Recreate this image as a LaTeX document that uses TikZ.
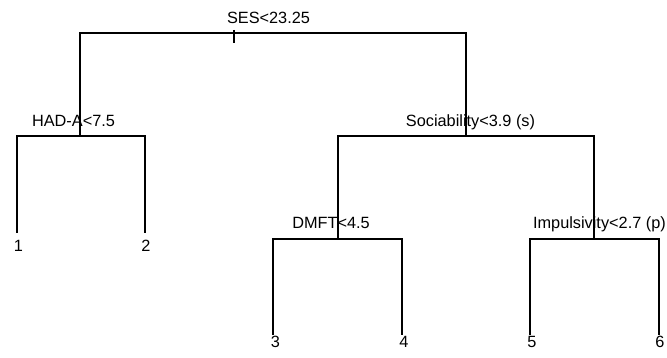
\documentclass[tikz,border=0pt]{standalone}
\usepackage{fontspec}
\setmainfont{Liberation Sans}
\begin{document}
\begin{tikzpicture}[x=1pt,y=-1pt,
  branch/.style={draw=black,line width=1.2pt},
  lab/.style={anchor=base,inner sep=0pt,font=\fontsize{16.3}{18}\selectfont},
  leaflab/.style={anchor=base,inner sep=0pt,font=\fontsize{16.3}{18}\selectfont}]
\useasboundingbox (0,0) rectangle (667,358);
% coordinates of tree nodes
\coordinate (rt) at (234,30);
\coordinate (rb) at (234,43);
\coordinate (r) at (234,33);
\coordinate (n2) at (80,136);
\coordinate (n3) at (466,136);
\coordinate (n6) at (338,239);
\coordinate (n7) at (594,239);
\coordinate (l1) at (17,233);
\coordinate (l2) at (145,233);
\coordinate (l3) at (273,335);
\coordinate (l4) at (402,335);
\coordinate (l5) at (530,335);
\coordinate (l6) at (659,335);
% labels
\node[lab] (t0) at (268.5,24) {SES<23.25};
\node[lab] (t2) at (73.5,127) {HAD-A<7.5};
\node[lab] (t3) at (470.5,127) {Sociability<3.9 (s)};
\node[lab] (t6) at (331,229) {DMFT<4.5};
\node[lab,anchor=base east] (t7) at (666,229) {Impulsivity<2.7 (p)};
\node[leaflab] (e1) at (18.5,252) {1};
\node[leaflab] (e2) at (146,252) {2};
\node[leaflab] (e3) at (275.5,347) {3};
\node[leaflab] (e4) at (404,347) {4};
\node[leaflab] (e5) at (532,347) {5};
\node[leaflab] (e6) at (660,347) {6};
% branches
\draw[branch] (rt) -- (rb);
\draw[branch] (n2) -- (n2 |- r) -- (n3 |- r) -- (n3);
\draw[branch] (l1) -- (l1 |- n2) -- (l2 |- n2) -- (l2);
\draw[branch] (n6) -- (n6 |- n3) -- (n7 |- n3) -- (n7);
\draw[branch] (l3) -- (l3 |- n6) -- (l4 |- n6) -- (l4);
\draw[branch] (l5) -- (l5 |- n7) -- (l6 |- n7) -- (l6);
\end{tikzpicture}
\end{document}
